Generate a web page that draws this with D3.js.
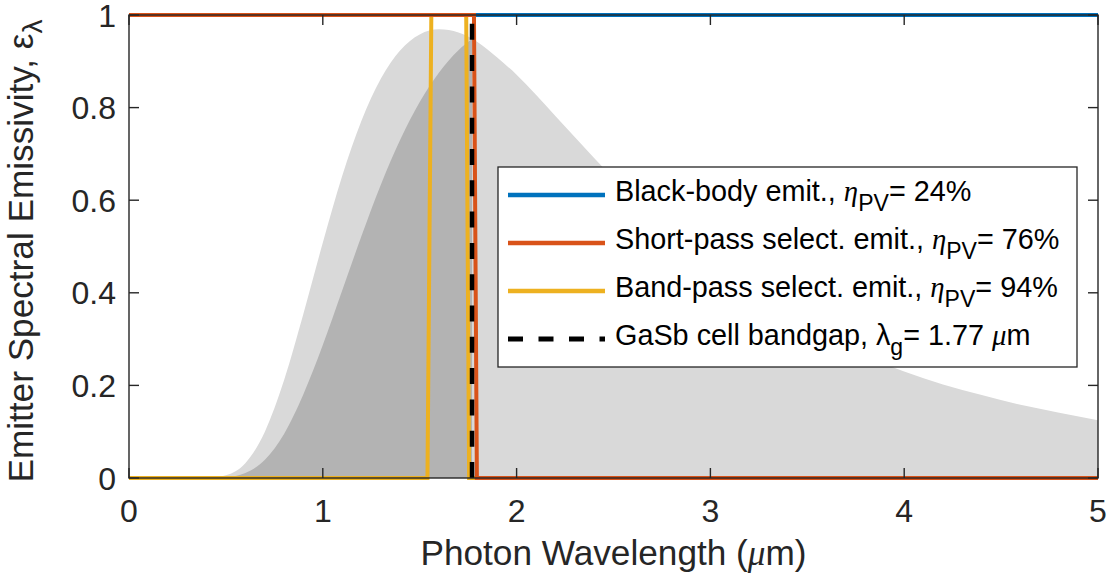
<!DOCTYPE html>
<html>
<head>
<meta charset="utf-8">
<script src="https://cdn.jsdelivr.net/npm/d3@7"></script>
<style>
  html, body { margin: 0; padding: 0; background: #ffffff; }
  svg { display: block; }
</style>
</head>
<body>
<svg id="chart" width="1112" height="582"></svg>
<script>
// ---------------- data ----------------
const xTicks = [0, 1, 2, 3, 4, 5];
const xTickLabels = ["0", "1", "2", "3", "4", "5"];
const yTicks = [0, 0.2, 0.4, 0.6, 0.8, 1];
const yTickLabels = ["0", "0.2", "0.4", "0.6", "0.8", "1"];

// emitted spectrum (light gray)
const spectrumWavelength = [0, 0.1, 0.2, 0.3, 0.4, 0.5, 0.6, 0.7, 0.8, 0.9, 1.0, 1.1, 1.2, 1.3, 1.4, 1.5, 1.6, 1.7, 1.8, 1.9, 2.0,
  2.2, 2.4, 2.6, 2.8, 3.0, 3.2, 3.4, 3.6, 3.8, 4.0, 4.2, 4.4, 4.6, 4.8, 5.0];
const spectrumValue = [0, 0, 0, 0, 0.0003, 0.006, 0.032, 0.099, 0.211, 0.355, 0.508, 0.652, 0.772, 0.863, 0.924, 0.958, 0.969, 0.962, 0.941, 0.908, 0.871,
  0.782, 0.691, 0.603, 0.523, 0.457, 0.396, 0.345, 0.300, 0.263, 0.230, 0.202, 0.179, 0.158, 0.141, 0.125];

// convertible part of the spectrum (dark gray), up to the bandgap
const convertibleWavelength = [0, 0.1, 0.2, 0.3, 0.4, 0.5, 0.6, 0.7, 0.8, 0.9, 1.0, 1.1, 1.2, 1.3, 1.4, 1.5, 1.6, 1.7, 1.77];
const convertibleValue = [0, 0, 0, 0, 0, 0.002, 0.011, 0.039, 0.095, 0.181, 0.287, 0.405, 0.523, 0.634, 0.731, 0.812, 0.876, 0.924, 0.948];

// emissivity lines
const blackBodyX = [0, 5];
const blackBodyY = [1, 1];
const shortPassX = [0, 1.78, 1.795, 5];
const shortPassY = [1, 1, 0, 0];
const bandPassX = [0, 1.54, 1.56, 1.74, 1.755, 5];
const bandPassY = [0, 0, 1, 1, 0, 0];
const bandgapX = [1.77, 1.77];
const bandgapY = [0, 1];

const legendNames = ["Black-body emit., ", "Short-pass select. emit., ", "Band-pass select. emit., ", "GaSb cell bandgap, "];
const legendValues = ["= 24%", "= 76%", "= 94%", "= 1.77 "];

// ---------------- layout ----------------
const svg = d3.select("#chart");
const L = 129, R = 1098, T = 15, B = 478;
const x = d3.scaleLinear().domain([0, 5]).range([L, R]);
const y = d3.scaleLinear().domain([0, 1]).range([B, T]);

const axisColor = "#262626";
const sans = "'Liberation Sans', Arial, Helvetica, sans-serif";
const serif = "'Liberation Serif', 'Times New Roman', serif";
const tickFont = 32, labelFont = 35.2, legendFont = 28.8;

const colors = { blue: "#0072BD", red: "#D95319", yellow: "#EDB120", black: "#000000" };

// ---------------- areas ----------------
const spectrumPts = spectrumWavelength.map((w, i) => [w, spectrumValue[i]]);
const convPts = convertibleWavelength.map((w, i) => [w, convertibleValue[i]]);
const area = d3.area().x(d => x(d[0])).y0(y(0)).y1(d => y(d[1])).curve(d3.curveMonotoneX);

svg.append("path").datum(spectrumPts).attr("d", area).attr("fill", "#d9d9d9");
svg.append("path").datum(convPts).attr("d", area).attr("fill", "#b3b3b3");

// ---------------- lines ----------------
const line = d3.line().x(d => x(d[0])).y(d => y(d[1]));
function zip(a, b) { return a.map((v, i) => [v, b[i]]); }

svg.append("path").datum(zip(blackBodyX, blackBodyY)).attr("d", line)
  .attr("fill", "none").attr("stroke", colors.blue).attr("stroke-width", 4);
svg.append("path").datum(zip(bandPassX, bandPassY)).attr("d", line)
  .attr("fill", "none").attr("stroke", colors.yellow).attr("stroke-width", 4);
svg.append("path").datum(zip(shortPassX, shortPassY)).attr("d", line)
  .attr("fill", "none").attr("stroke", colors.red).attr("stroke-width", 4);
svg.append("path").datum(zip(bandgapX, bandgapY)).attr("d", line)
  .attr("fill", "none").attr("stroke", colors.black).attr("stroke-width", 4.5)
  .attr("stroke-dasharray", "16,15.3");

// ---------------- axes box & ticks ----------------
const tickLen = 10;
const axG = svg.append("g").attr("stroke", axisColor).attr("stroke-width", 1.4).attr("fill", "none");
axG.append("rect").attr("x", L).attr("y", T).attr("width", R - L).attr("height", B - T);
xTicks.forEach(t => {
  axG.append("line").attr("x1", x(t)).attr("x2", x(t)).attr("y1", B).attr("y2", B - tickLen);
  axG.append("line").attr("x1", x(t)).attr("x2", x(t)).attr("y1", T).attr("y2", T + tickLen);
});
yTicks.forEach(t => {
  axG.append("line").attr("x1", L).attr("x2", L + tickLen).attr("y1", y(t)).attr("y2", y(t));
  axG.append("line").attr("x1", R).attr("x2", R - tickLen).attr("y1", y(t)).attr("y2", y(t));
});

// tick labels
svg.append("g").selectAll("text").data(xTicks).join("text")
  .attr("x", d => x(d)).attr("y", 522)
  .attr("text-anchor", "middle").attr("font-family", sans).attr("font-size", tickFont)
  .attr("fill", axisColor).text((d, i) => xTickLabels[i]);
svg.append("g").selectAll("text").data(yTicks).join("text")
  .attr("x", 116).attr("y", d => y(d) + 11.5)
  .attr("text-anchor", "end").attr("font-family", sans).attr("font-size", tickFont)
  .attr("fill", axisColor).text((d, i) => yTickLabels[i]);

// x label
const xl = svg.append("text").attr("x", (L + R) / 2).attr("y", 565)
  .attr("text-anchor", "middle").attr("font-family", sans).attr("font-size", labelFont).attr("fill", axisColor);
xl.append("tspan").text("Photon Wavelength (");
xl.append("tspan").attr("font-family", serif).attr("font-style", "italic").text("\u03BC");
xl.append("tspan").text("m)");

// y label
const yl = svg.append("text").attr("transform", "translate(33,251) rotate(-90)")
  .attr("text-anchor", "middle").attr("font-family", sans).attr("font-size", labelFont).attr("fill", axisColor);
yl.append("tspan").text("Emitter Spectral Emissivity, \u03B5");
yl.append("tspan").attr("dy", 9).attr("font-size", labelFont * 0.8).text("\u03BB");

// ---------------- legend ----------------
const lg = svg.append("g");
lg.append("rect").attr("x", 498).attr("y", 167).attr("width", 579).attr("height", 200)
  .attr("fill", "#ffffff").attr("stroke", axisColor).attr("stroke-width", 1.3);
const legendY = [195, 243, 291, 339];
const legendColors = [colors.blue, colors.red, colors.yellow, colors.black];
legendY.forEach((ly, i) => {
  const ln = lg.append("line").attr("x1", 508).attr("x2", 605).attr("y1", ly).attr("y2", ly)
    .attr("stroke", legendColors[i]).attr("stroke-width", i === 3 ? 5 : 4.5);
  if (i === 3) ln.attr("stroke-dasharray", "15,15.5");
  const t = lg.append("text").attr("x", 615).attr("y", ly + 6)
    .attr("font-family", sans).attr("font-size", legendFont).attr("fill", "#000");
  if (i < 3) {
    t.append("tspan").text(legendNames[i]);
    t.append("tspan").attr("font-family", serif).attr("font-style", "italic").text("\u03B7");
    t.append("tspan").attr("dy", 10).attr("font-size", legendFont * 0.8).text("PV");
    t.append("tspan").attr("dy", -10).text(legendValues[i]);
  } else {
    t.append("tspan").text(legendNames[i] + "\u03BB");
    t.append("tspan").attr("dy", 10).attr("font-size", legendFont * 0.8).text("g");
    t.append("tspan").attr("dy", -10).text(legendValues[i]);
    t.append("tspan").attr("font-family", serif).attr("font-style", "italic").text("\u03BC");
    t.append("tspan").text("m");
  }
});
</script>
</body>
</html>
